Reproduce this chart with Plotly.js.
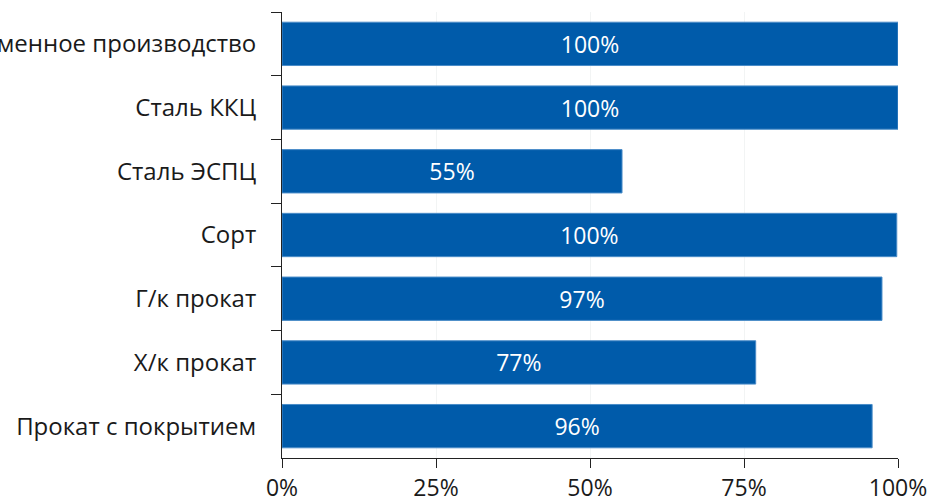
<!DOCTYPE html>
<html>
<head>
<meta charset="utf-8">
<script src="https://cdn.plot.ly/plotly-3.0.1.min.js"></script>
<style>html,body{margin:0;padding:0;background:#fff;}#chart{width:930px;height:502px;}</style>
</head>
<body>
<div id="chart"></div>
<script>
const categories = ["Доменное производство", "Сталь ККЦ", "Сталь ЭСПЦ", "Сорт", "Г/к прокат", "Х/к прокат", "Прокат с покрытием"];
const values = [100, 100, 55.2, 99.8, 97.4, 76.9, 95.8];
const labels = ["100%", "100%", "55%", "100%", "97%", "77%", "96%"];
const xTickVals = [0, 25, 50, 75, 100];
const xTickText = ["0%", "25%", "50%", "75%", "100%"];

const trace = {
  type: "bar",
  orientation: "h",
  y: categories,
  x: values,
  text: labels,
  textposition: "inside",
  insidetextanchor: "middle",
  constraintext: "none",
  textangle: 0,
  textfont: {family: "Open Sans", size: 23, color: "#ffffff"},
  marker: {color: "#005BAA", line: {color: "#4A8CC8", width: 1}},
  width: 0.68,
  hoverinfo: "none"
};

const layout = {
  width: 930, height: 502,
  margin: {l: 282, r: 32, t: 12, b: 44},
  paper_bgcolor: "#ffffff",
  plot_bgcolor: "#ffffff",
  showlegend: false,
  font: {family: "Open Sans", size: 23, color: "#1a1a1a"},
  xaxis: {
    range: [0, 100],
    tickvals: xTickVals,
    ticktext: xTickText,
    ticks: "outside",
    ticklen: 9,
    tickcolor: "#222",
    showline: true,
    linecolor: "#222",
    linewidth: 1,
    showgrid: true,
    gridcolor: "#f2f4f4",
    zeroline: false,
    tickfont: {family: "Open Sans", size: 23, color: "#1a1a1a"},
    fixedrange: true
  },
  yaxis: {
    type: "category",
    autorange: "reversed",
    ticks: "outside",
    tickson: "boundaries",
    ticklen: 10,
    tickcolor: "#222",
    showline: true,
    linecolor: "#222",
    linewidth: 1,
    showgrid: false,
    zeroline: false,
    automargin: false,
    ticklabelstandoff: 20,
    tickfont: {family: "Open Sans", size: 24, color: "#1a1a1a"},
    fixedrange: true
  }
};

Plotly.newPlot("chart", [trace], layout, {displayModeBar: false, staticPlot: true});
</script>
</body>
</html>
